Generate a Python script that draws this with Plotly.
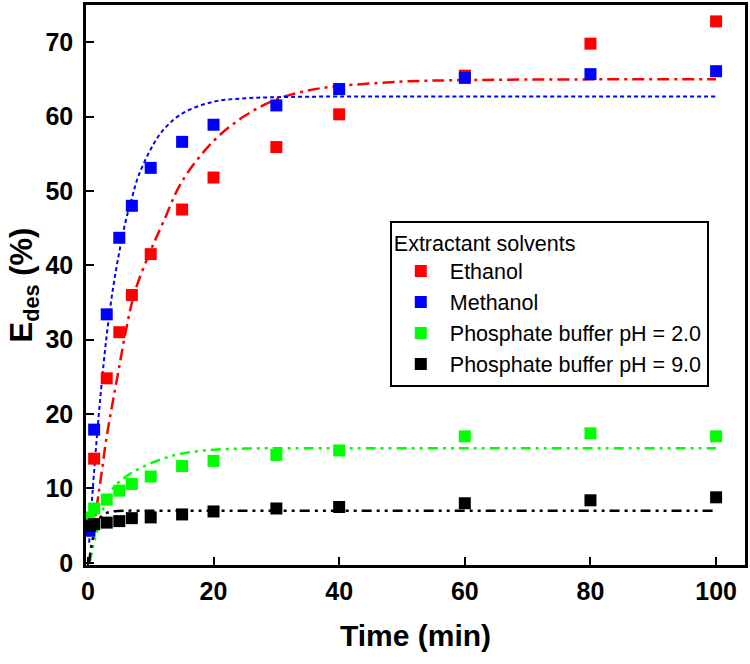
import plotly.graph_objects as go

# ---- data ----
time_pts = [0.25, 1, 3, 5, 7, 10, 15, 20, 30, 40, 60, 80, 100]
ethanol = [5.0, 14.0, 24.8, 31.0, 36.0, 41.5, 47.5, 51.8, 55.9, 60.3, 65.5, 69.8, 72.8]
methanol = [4.3, 17.9, 33.4, 43.7, 48.0, 53.1, 56.6, 58.9, 61.5, 63.7, 65.2, 65.7, 66.1]
buffer_ph2 = [6.1, 7.3, 8.5, 9.7, 10.6, 11.6, 13.0, 13.7, 14.5, 15.1, 17.0, 17.4, 17.0]
buffer_ph9 = [5.0, 5.2, 5.4, 5.6, 6.0, 6.1, 6.5, 6.9, 7.3, 7.5, 8.0, 8.4, 8.8]

# fitted curves
fit_meth_t = [0.2, 0.5, 1, 2, 3, 4, 5, 6, 7, 8, 10, 12, 15, 20, 25, 30, 40, 60, 80, 100]
fit_meth_e = [2.7, 6.5, 12.4, 22.4, 30.6, 36.9, 41.8, 45.9, 49.0, 51.9, 55.6, 58.2, 60.4, 62.0, 62.45, 62.6, 62.7, 62.7, 62.7, 62.7]
fit_eth_t = [0.8, 1.4, 2, 3, 4, 5, 6, 7.5, 10, 12, 15, 20, 25, 30, 35, 40, 50, 60, 80, 100]
fit_eth_e = [4.0, 7.5, 11.0, 17.0, 21.8, 26.4, 31.0, 36.5, 42.0, 45.8, 51.3, 56.7, 60.1, 62.3, 63.5, 64.1, 64.7, 64.9, 65.0, 65.0]
fit_ph2_t = [0.3, 1, 1.5, 2, 3, 4, 5, 7, 9, 12, 15, 20, 25, 30, 40, 60, 80, 100]
fit_ph2_e = [0.0, 2.8, 4.3, 6.0, 8.6, 10.0, 10.9, 12.1, 13.0, 14.0, 14.7, 15.2, 15.35, 15.4, 15.4, 15.4, 15.4, 15.4]
fit_ph9_t = [0.2, 0.5, 1, 1.5, 2, 3, 4, 6, 10, 20, 40, 60, 80, 100]
fit_ph9_e = [0.0, 2.0, 4.0, 5.3, 6.1, 6.7, 6.9, 7.0, 7.0, 7.0, 7.0, 7.0, 7.0, 7.0]

series_names = ["Ethanol", "Methanol", "Phosphate buffer pH = 2.0", "Phosphate buffer pH = 9.0"]
colors = ["#FF0000", "#0000FF", "#00FF00", "#000000"]

FONT = "Arial, Liberation Sans, sans-serif"

fig = go.Figure()

# fit lines
fig.add_trace(go.Scatter(x=fit_eth_t, y=fit_eth_e, mode="lines", showlegend=False,
                         line=dict(color=colors[0], width=2.5, dash="12px,5px,3px,5px"), line_shape="spline"))
fig.add_trace(go.Scatter(x=fit_meth_t, y=fit_meth_e, mode="lines", showlegend=False,
                         line=dict(color=colors[1], width=2, dash="4px,3px"), line_shape="spline"))
fig.add_trace(go.Scatter(x=fit_ph2_t, y=fit_ph2_e, mode="lines", showlegend=False,
                         line=dict(color=colors[2], width=2.5, dash="10px,5px,3px,5px,3px,5px"), line_shape="spline"))
fig.add_trace(go.Scatter(x=fit_ph9_t, y=fit_ph9_e, mode="lines", showlegend=False,
                         line=dict(color=colors[3], width=2.5, dash="10px,5px,3px,5px,3px,5px"), line_shape="spline"))

# data markers
for name, vals, col in zip(series_names, [ethanol, methanol, buffer_ph2, buffer_ph9], colors):
    fig.add_trace(go.Scatter(x=time_pts, y=vals, mode="markers", name=name,
                             marker=dict(symbol="square", size=12, color=col, line=dict(width=0))))

fig.update_layout(
    width=750, height=664,
    margin=dict(l=86, r=5, t=2, b=99),
    paper_bgcolor="white", plot_bgcolor="white",
    font=dict(family=FONT, color="black"),
    legend=dict(
        title=dict(text="Extractant solvents", font=dict(size=21.5, family=FONT)),
        x=0.461, y=0.615, xanchor="left", yanchor="top",
        bordercolor="black", borderwidth=2, bgcolor="white",
        font=dict(size=21.5, family=FONT),
        itemsizing="constant",
        itemwidth=48,
        tracegroupgap=0,
    ),
)

fig.update_xaxes(
    range=[-0.3, 104.6], tickvals=[0, 20, 40, 60, 80, 100],
    ticks="inside", ticklen=8, tickwidth=2, tickcolor="black",
    showline=True, linewidth=2.5, linecolor="black", mirror=True,
    showgrid=False, zeroline=False,
    tickfont=dict(size=25, family=FONT, weight="bold"),
    ticklabelstandoff=2,
    title=dict(text="Time (min)", font=dict(size=30, family=FONT, weight="bold"), standoff=22),
)
fig.update_yaxes(
    range=[-0.3, 75], tickvals=[0, 10, 20, 30, 40, 50, 60, 70],
    ticks="inside", ticklen=8, tickwidth=2, tickcolor="black",
    showline=True, linewidth=2.5, linecolor="black", mirror=True,
    showgrid=False, zeroline=False,
    tickfont=dict(size=25, family=FONT, weight="bold"),
    ticklabelstandoff=5,
    title=dict(text="E<sub>des</sub> (%)", font=dict(size=31, family=FONT, weight="bold"), standoff=4),
)

fig.write_html("out.html")
